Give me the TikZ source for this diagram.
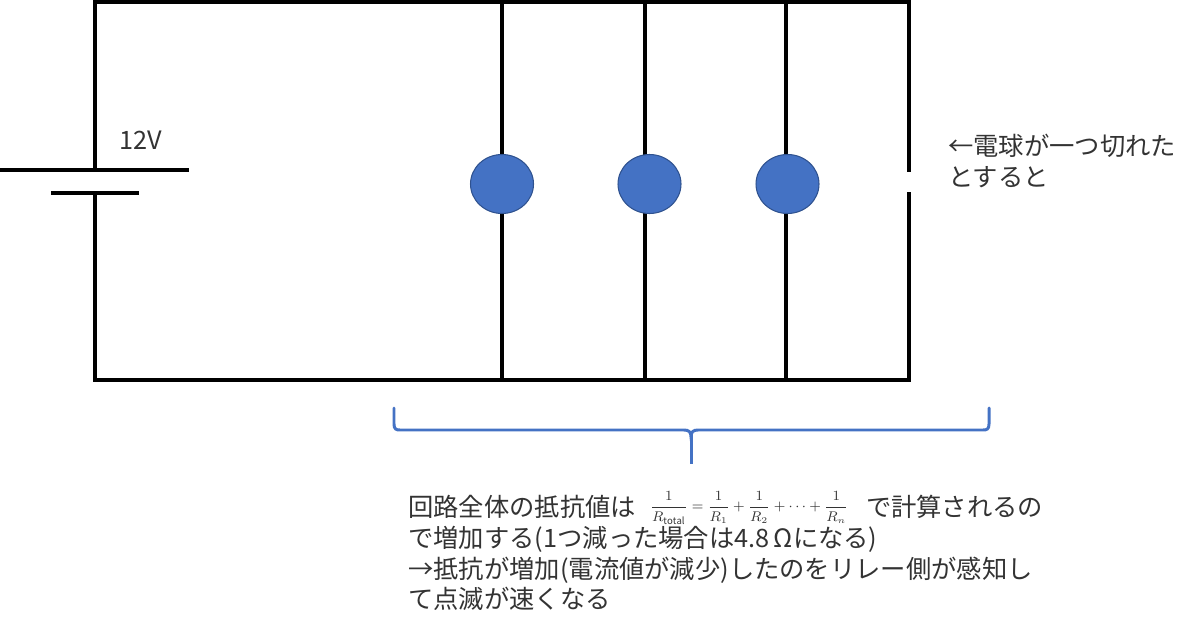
\documentclass[tikz,border=0pt]{standalone}
\usepackage{fontspec}
\usepackage{amsmath}
\usepackage{xcolor}
\setmainfont{Noto Sans CJK JP}[Scale=1]
\definecolor{bulbblue}{RGB}{68, 114, 196}
\definecolor{bulbedge}{RGB}{47, 82, 143}
\usetikzlibrary{shapes.geometric, positioning}

\begin{document}
\begin{tikzpicture}[
    x=0.02cm, y=-0.02cm,
    wire/.style={draw=black, line width=2.3pt},
    plate/.style={draw=black, line width=2pt},
    bulb/.style={ellipse, draw=bulbedge, fill=bulbblue, line width=0.6pt, minimum width=1.26cm, minimum height=1.18cm, inner sep=0pt},
    brace/.style={draw=bulbblue, line width=1.7pt, line cap=round},
    note/.style={align=left, inner sep=0pt, text=black!80, font=\fontsize{14.4}{17.5}\selectfont}
]
    \useasboundingbox (0,0) rectangle (1200,632);

    % Circuit corners
    \coordinate (topleft) at (95,2);
    \coordinate (topright) at (909,2);
    \coordinate (botleft) at (95,380);
    \coordinate (botright) at (909,380);

    % Battery
    \coordinate (plusL) at (0,170);
    \coordinate (plusR) at (189,170);
    \coordinate (minusL) at (51,193);
    \coordinate (minusR) at (139,193);
    \coordinate (plusT) at (95,170);
    \coordinate (minusT) at (95,193);
    \draw[plate] (plusL) -- (plusR);
    \draw[plate] (minusL) -- (minusR);
    \node[note, anchor=west] (volt) at (119,140) {12V};

    % Outer loop with the gap on the right
    \coordinate (gapT) at (909,172);
    \coordinate (gapB) at (909,192);
    \draw[wire] (plusT) -- (topleft) -- (topright) -- (gapT);
    \draw[wire] (minusT) -- (botleft) -- (botright) -- (gapB);

    % Branches
    \coordinate (t1) at (502,2);
    \coordinate (b1) at (502,380);
    \coordinate (t2) at (645,2);
    \coordinate (b2) at (645,380);
    \coordinate (t3) at (786,2);
    \coordinate (b3) at (786,380);
    \draw[wire] (t1) -- (b1);
    \draw[wire] (t2) -- (b2);
    \draw[wire] (t3) -- (b3);

    % Bulbs
    \node[bulb] (bulb1) at (502,184) {};
    \node[bulb] (bulb2) at (649.5,184) {};
    \node[bulb] (bulb3) at (787.5,184) {};

    \node[note, anchor=north west] (broken) at (948,134) {←電球が一つ切れた\\とすると};

    % Brace
    \coordinate (braceL) at (394,408);
    \coordinate (braceR) at (989,408);
    \coordinate (braceM) at (691,464);
    \draw[brace] (braceL) -- (394,424) .. controls (394,429) and (396,430) .. (400,430)
        -- (684,430) .. controls (689,430) and (691,432) .. (691,437)
        .. controls (691,432) and (693,430) .. (698,430)
        -- (983,430) .. controls (987,430) and (989,429) .. (989,424) -- (braceR);
    \draw[brace, line cap=butt] (691,434) -- (braceM);

    % Explanation
    \node[note, anchor=north west] (explain) at (408,495) {回路全体の抵抗値は\hspace{8pt}\smash{\raisebox{3.4pt}{\fontsize{7.8}{8}\selectfont$\displaystyle\frac{1}{R_{\mathrm{total}}}=\frac{1}{R_1}+\frac{1}{R_2}+\cdots+\frac{1}{R_n}$}}\hspace{10pt}で計算されるの\\
    で増加する(1つ減った場合は4.8\,Ωになる)\\
    →抵抗が増加(電流値が減少)したのをリレー側が感知し\\
    て点滅が速くなる};
\end{tikzpicture}
\end{document}
